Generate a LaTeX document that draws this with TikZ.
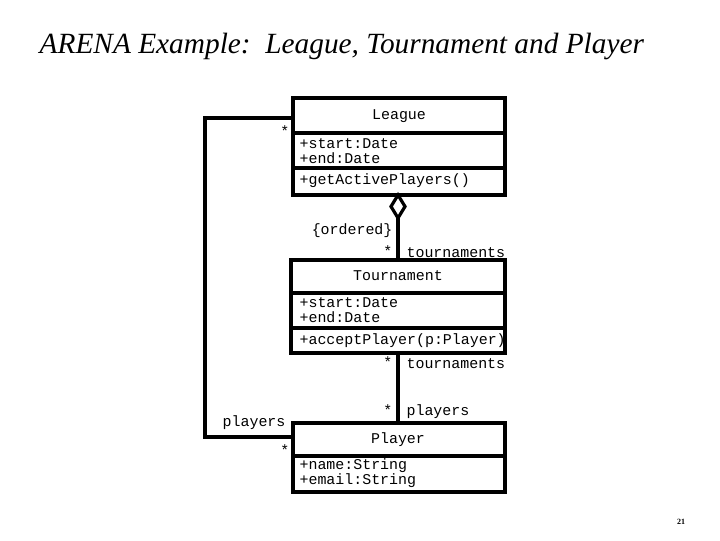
\documentclass[tikz,border=0pt]{standalone}
\usepackage{fontspec}
\setmainfont{Liberation Serif}
\setmonofont{Liberation Mono}
\tikzset{
  box/.style={draw,line width=2.4pt},
  assoc/.style={line width=2.4pt},
  lbl/.style={font=\ttfamily\fontsize{11.2}{11.5}\selectfont,inner sep=1pt},
}
\begin{document}
\begin{tikzpicture}[x=0.75pt,y=-0.75pt]
  \useasboundingbox (0,0) rectangle (720,540);
  \node[anchor=west,font=\itshape\fontsize{22}{24}\selectfont] (title) at (35,46)
       {ARENA Example:\ \ League, Tournament and Player};

  % League
  \draw[box] (293,98) rectangle (505,195);
  \draw[box] (293,133) -- (505,133);
  \draw[box] (293,168) -- (505,168);
  \node[lbl] (league) at (399,116) {League};
  \node[lbl,anchor=west,align=left] (lattr) at (298,151) {+start:Date\\+end:Date};
  \node[lbl,anchor=west] (lop) at (298,181) {+getActivePlayers()};

  % Tournament
  \draw[box] (291,260) rectangle (505,353);
  \draw[box] (291,293) -- (505,293);
  \draw[box] (291,328) -- (505,328);
  \node[lbl] (tournament) at (398,276) {Tournament};
  \node[lbl,anchor=west,align=left] (tattr) at (298,310) {+start:Date\\+end:Date};
  \node[lbl,anchor=west] (top) at (298,341) {+acceptPlayer(p:Player)};

  % Player
  \draw[box] (293,423) rectangle (505,492);
  \draw[box] (293,456) -- (505,456);
  \node[lbl] (player) at (398,440) {Player};
  \node[lbl,anchor=west,align=left] (pattr) at (298,473) {+name:String\\+email:String};

  % aggregation
  \coordinate (dtop) at (398,195);
  \coordinate (dbot) at (398,218);
  \draw[assoc,fill=white] (dtop) -- (405,206.5) -- (dbot) -- (391,206.5) -- cycle;
  \draw[assoc] (dbot) -- (398,260);
  \node[lbl,anchor=east] (ord) at (394,231) {\{ordered\}};
  \node[lbl,anchor=east] (m1) at (394,251) {*};
  \node[lbl,anchor=west] (r1) at (405,253) {tournaments};

  % Tournament -- Player
  \draw[assoc] (398,353) -- (398,423);
  \node[lbl,anchor=east] (m2) at (394,362) {*};
  \node[lbl,anchor=west] (r2) at (405,364) {tournaments};
  \node[lbl,anchor=east] (m3) at (394,410) {*};
  \node[lbl,anchor=west] (r3) at (405,412) {players};

  % League -- Player
  \draw[assoc] (293,118) -- (205,118) -- (205,437) -- (293,437);
  \node[lbl,anchor=east] (m4) at (291,131) {*};
  \node[lbl,anchor=east] (r4) at (287,423) {players};
  \node[lbl,anchor=east] (m5) at (291,450) {*};

  \node[font=\bfseries\fontsize{6}{7}\selectfont] (page) at (681,522) {21};
\end{tikzpicture}
\end{document}
